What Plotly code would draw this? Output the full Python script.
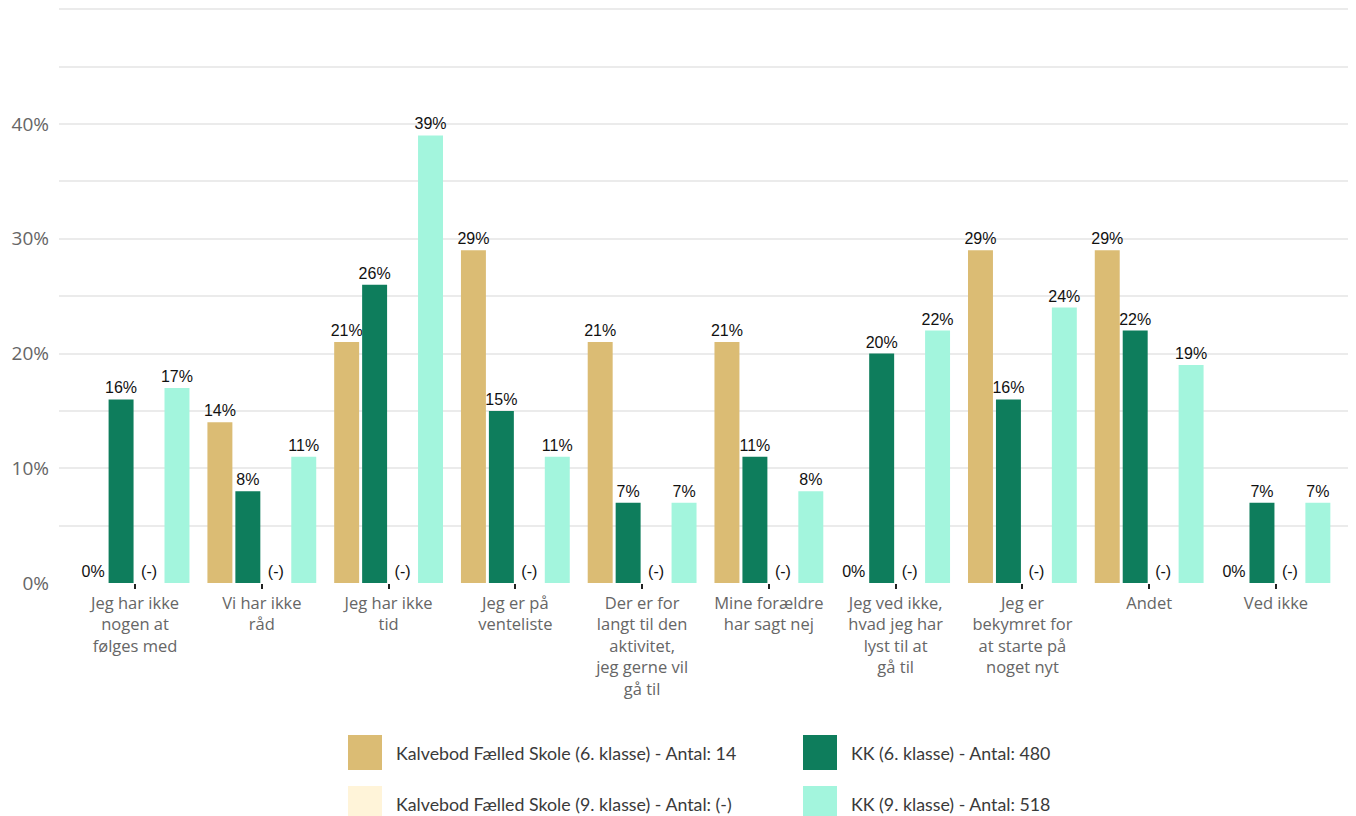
import plotly.graph_objects as go

W, H = 1356, 816
# the html page adds an 8px body margin, so the plot area is placed 8px up/left
M_L, M_R, M_T, M_B = 51, 12, 0, 241

categories = [
    "Jeg har ikke<br>nogen at<br>følges med",
    "Vi har ikke<br>råd",
    "Jeg har ikke<br>tid",
    "Jeg er på<br>venteliste",
    "Der er for<br>langt til den<br>aktivitet,<br>jeg gerne vil<br>gå til",
    "Mine forældre<br>har sagt nej",
    "Jeg ved ikke,<br>hvad jeg har<br>lyst til at<br>gå til",
    "Jeg er<br>bekymret for<br>at starte på<br>noget nyt",
    "Andet",
    "Ved ikke",
]

series_names = [
    "Kalvebod Fælled Skole (6. klasse) - Antal: 14",
    "KK (6. klasse) - Antal: 480",
    "Kalvebod Fælled Skole (9. klasse) - Antal: (-)",
    "KK (9. klasse) - Antal: 518",
]
kalvebod_6 = [0, 14, 21, 29, 21, 21, 0, 29, 29, 0]
kk_6 = [16, 8, 26, 15, 7, 11, 20, 16, 22, 7]
kalvebod_9 = [None] * 10  # no data, shown as "(-)"
kk_9 = [17, 11, 39, 11, 7, 8, 22, 24, 19, 7]

colors = ["#DBBC74", "#0E7D5C", "#FFF4D9", "#A3F5DD"]

y_ticks = list(range(0, 51, 5))
y_ticktext = [f"{v}%" if v % 10 == 0 and v <= 40 else "" for v in y_ticks]

AXIS_FONT = "Open Sans, Noto Sans, sans-serif"

fig = go.Figure()
for name, values, color in zip(series_names, [kalvebod_6, kk_6, kalvebod_9, kk_9], colors):
    y = [0 if v is None else v for v in values]
    text = ["(-)" if v is None else f"{v}%" for v in values]
    fig.add_trace(
        go.Bar(
            x=list(range(len(categories))),
            y=y,
            name=name,
            text=text,
            textposition="outside",
            constraintext="none",
            cliponaxis=False,
            textfont=dict(family="Liberation Sans, Arial", size=16, color="#111111"),
            marker=dict(color=color, line=dict(width=0)),
            hoverinfo="skip",
            showlegend=False,
        )
    )

fig.update_layout(
    width=W,
    height=H,
    margin=dict(l=M_L, r=M_R, t=M_T, b=M_B),
    paper_bgcolor="white",
    plot_bgcolor="white",
    barmode="group",
    bargap=0.118,
    bargroupgap=0.107,
    font=dict(family=AXIS_FONT, size=16, color="#666666"),
    xaxis=dict(
        tickmode="array",
        tickvals=list(range(len(categories))),
        ticktext=categories,
        range=[-0.6, 9.6],
        ticks="outside",
        ticklen=5,
        tickwidth=2,
        tickcolor="#222222",
        showgrid=False,
        showline=False,
        zeroline=False,
        tickfont=dict(family=AXIS_FONT, size=16.5, color="#666666"),
    ),
    yaxis=dict(
        range=[0, 50.11],
        tickmode="array",
        tickvals=y_ticks,
        ticktext=y_ticktext,
        showgrid=True,
        gridcolor="#EBEBEB",
        gridwidth=2,
        zeroline=False,
        showline=False,
        ticks="",
        ticklabelstandoff=9,
        tickfont=dict(family=AXIS_FONT, size=19, color="#666666"),
    ),
)

# manual legend with large square swatches (pixel positions in figure space)
plot_w = W - M_L - M_R
plot_h = H - M_T - M_B


def px_x(px):
    return (px - M_L) / plot_w


def px_y(py):
    return (H - M_B - py) / plot_h


legend_cells = [(340, 727), (795, 727), (340, 778), (795, 778)]
for (lx, ly), name, color in zip(legend_cells, series_names, colors):
    fig.add_shape(
        type="rect",
        xref="paper",
        yref="paper",
        x0=px_x(lx),
        x1=px_x(lx + 34),
        y0=px_y(ly),
        y1=px_y(ly + 35),
        fillcolor=color,
        line=dict(width=0),
    )
    fig.add_annotation(
        xref="paper",
        yref="paper",
        x=px_x(lx + 46),
        y=px_y(ly + 17.5),
        xanchor="left",
        yanchor="middle",
        text=name,
        showarrow=False,
        font=dict(family="Lato, Noto Sans, sans-serif", size=17.8, color="#3A3A3A"),
    )

fig.write_html("out.html")
